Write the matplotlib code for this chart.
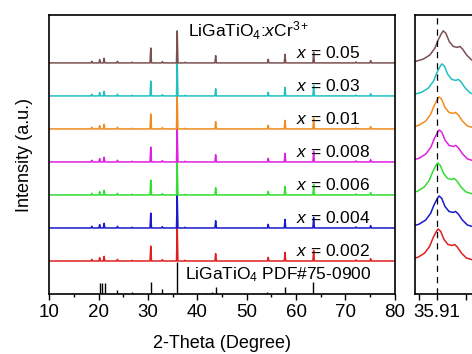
import numpy as np
import matplotlib
matplotlib.use('Agg')
import matplotlib.pyplot as plt

plt.rcParams['font.family'] = ['Liberation Sans', 'DejaVu Sans']
plt.rcParams['mathtext.fontset'] = 'custom'
plt.rcParams['mathtext.rm'] = 'Liberation Sans'
plt.rcParams['mathtext.it'] = 'Liberation Sans:italic'

# samples, bottom to top
conc = ['0.002', '0.004', '0.006', '0.008', '0.01', '0.03', '0.05']
colors = ['#e02020', '#1a1ac8', '#33dd33', '#e020e0', '#f08c1e', '#20c0c0', '#7a5050']
main_h = [1.0, 1.0, 1.0, 1.0, 1.0, 1.0, 0.97]

# XRD peaks of the samples (2theta, relative height)
peak_pos = [18.6, 20.2, 21.1, 23.8, 26.8, 30.55, 32.9, 35.91, 37.5, 43.7,
            54.35, 57.75, 63.55, 72.1, 75.1]
peak_h = [0.05, 0.10, 0.14, 0.05, 0.02, 0.45, 0.04, 1.0, 0.02, 0.22,
          0.11, 0.26, 0.32, 0.03, 0.07]

# PDF#75-0900 reference lines
ref_pos = [20.2, 20.6, 21.25, 23.8, 26.8, 30.55, 32.9, 35.91, 36.7, 41.7,
           43.0, 43.7, 54.2, 54.5, 57.7, 63.45]
ref_h = [0.32, 0.32, 0.33, 0.12, 0.06, 0.36, 0.15, 0.97, 0.03, 0.03,
         0.06, 0.22, 0.06, 0.04, 0.22, 0.36]

# zoomed (311) peak profile
zoom_x = [35.70, 35.80, 35.842, 35.875, 35.90, 35.917, 35.934, 35.942, 35.955,
          35.972, 35.992, 36.012, 36.025, 36.039, 36.059, 36.084, 36.125, 36.40]
zoom_y = [0.0, 0.04, 0.115, 0.24, 0.445, 0.70, 0.90, 0.97, 0.90,
          0.65, 0.50, 0.47, 0.50, 0.42, 0.24, 0.09, 0.015, 0.0]
zoom_shift = [-0.026, -0.021, -0.028, -0.02, -0.021, -0.007, 0.0]

fig = plt.figure(figsize=(4.72, 3.54), dpi=100)
ax = fig.add_axes([0.1045, 0.1695, 0.732, 0.788])
ax2 = fig.add_axes([0.879, 0.1695, 0.222, 0.788])

for i, (c, col) in enumerate(zip(conc, colors)):
    off = i + 1
    xs, ys = [10], [off]
    for p, h in zip(peak_pos, peak_h):
        if p == 35.91:
            h = main_h[i]
        xs += [p - 0.15, p, p + 0.15]
        ys += [off, off + h, off]
    xs.append(80)
    ys.append(off)
    ax.plot(xs, ys, color=col, lw=1.1)
    ax.text(60, off + 0.3, r'$\it{x}$ = ' + c, fontsize=12.5, va='center')

    ax2.plot(np.array(zoom_x) + zoom_shift[i], np.array(zoom_y) + off,
             color=col, lw=1.1)

ax.vlines(ref_pos, 0, ref_h, color='black', lw=1.0)
ax.text(37.5, 0.58, r'LiGaTiO$_4$ PDF#75-0900', fontsize=12.5, va='center')
ax.text(38.1, 7.97, r'LiGaTiO$_4$:$\it{x}$Cr$^{3+}$', fontsize=12.5, va='center')

ax.set_xlim(10, 80)
ax.set_ylim(0, 8.45)
ax.set_xticks(range(10, 81, 10))
ax.set_xticks(range(15, 80, 10), minor=True)
ax.set_yticks([])
ax.tick_params(axis='x', which='major', direction='out', length=4, width=1,
               labelsize=13.5, pad=3)
ax.tick_params(axis='x', which='minor', direction='out', length=2.5, width=1)
ax.set_xlabel('2-Theta (Degree)', fontsize=13, labelpad=10)
ax.set_ylabel('Intensity (a.u.)', fontsize=13, labelpad=12)
for s in ax.spines.values():
    s.set_linewidth(1.2)

ax2.axvline(35.91, color='black', ls=(0, (5, 4)), lw=0.9)
ax2.set_xlim(35.80, 36.325)
ax2.set_ylim(0, 8.45)
ax2.set_xticks([35.91])
ax2.set_xticks([35.82, 36.055], minor=True)
ax2.set_xticklabels(['35.91'])
ax2.set_yticks([])
ax2.tick_params(axis='x', which='major', direction='out', length=4, width=1,
                labelsize=13.5, pad=3)
ax2.tick_params(axis='x', which='minor', direction='out', length=4, width=1)
for s in ax2.spines.values():
    s.set_linewidth(1.2)

fig.savefig('out.png', dpi=100)
